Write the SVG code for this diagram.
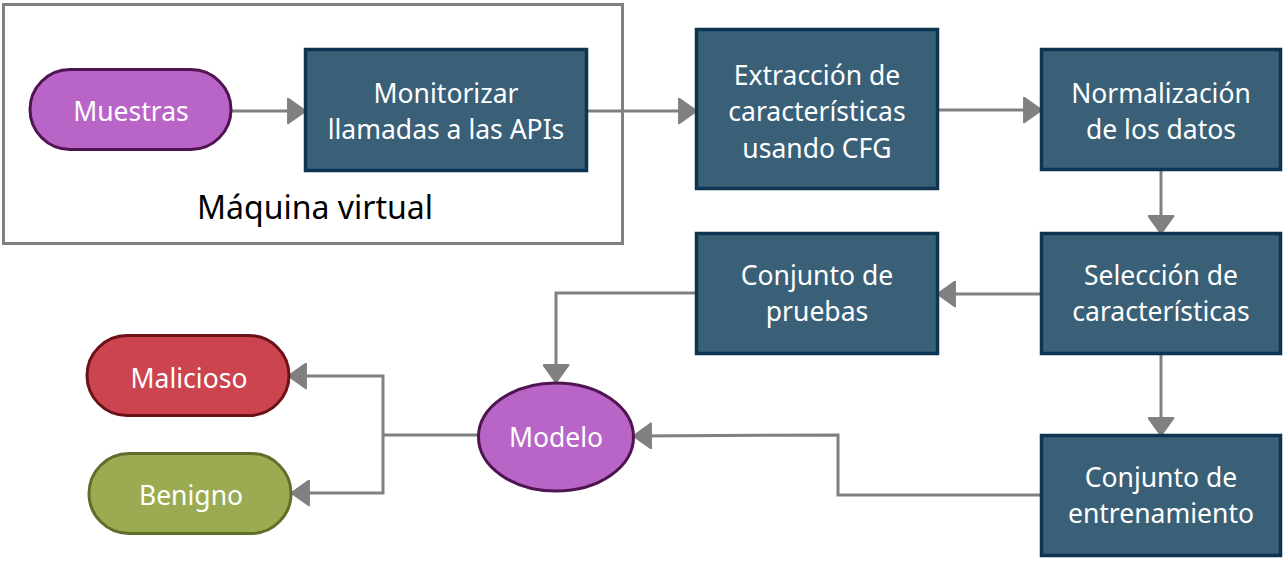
<svg xmlns="http://www.w3.org/2000/svg" width="1286" height="561" viewBox="0 0 1286 561">
<defs>
<marker id="ah" viewBox="0 0 10 10" refX="9.5" refY="5" markerWidth="6.3" markerHeight="9" markerUnits="strokeWidth" orient="auto" preserveAspectRatio="none">
<path d="M0.5,0.5 L9.5,5 L0.5,9.5 Z" fill="#808080" stroke="#808080" stroke-width="1" stroke-linejoin="round"/>
</marker>
<style>
.box{fill:#3a6078;stroke:#0d3552;stroke-width:3.5}
.t{font-family:"Noto Sans","Open Sans","DejaVu Sans",sans-serif;font-size:26.5px;fill:#ffffff;text-anchor:middle}
.c{fill:none;stroke:#808080;stroke-width:3;marker-end:url(#ah)}
.cn{fill:none;stroke:#808080;stroke-width:3}
</style>
</defs>
<rect width="1286" height="561" fill="#ffffff"/>
<g id="vm">
<rect x="3.5" y="4.5" width="619" height="239" fill="none" stroke="#808080" stroke-width="3"/>
<text x="315" y="219" font-family="Noto Sans,Open Sans,sans-serif" font-size="32" fill="#000000" text-anchor="middle">Máquina virtual</text>
</g>
<g id="connectors">
<path class="c" d="M231,111 L305,111"/>
<path class="c" d="M587,111 L696,111"/>
<path class="c" d="M938,110 L1041,110"/>
<path class="c" d="M1161,170 L1161,233"/>
<path class="c" d="M1041,294 L938,294"/>
<path class="c" d="M696,293 L556,293 L556,382"/>
<path class="c" d="M1161,354 L1161,435"/>
<path class="c" d="M1041,495 L838,495 L838,435 L634,436"/>
<path class="cn" d="M478,435 L383,435"/>
<path class="c" d="M383,435 L383,376 L289,376"/>
<path class="c" d="M383,435 L383,493 L292,493"/>
</g>
<g id="muestras">
<rect x="30" y="69.5" width="201" height="80" rx="40" fill="#b964c7" stroke="#4f1552" stroke-width="3"/>
<text class="t" x="131" y="121">Muestras</text>
</g>
<g id="monitorizar">
<rect class="box" x="305.5" y="49.5" width="281" height="121"/>
<text class="t" x="446" y="103">Monitorizar</text>
<text class="t" x="446" y="139">llamadas a las APIs</text>
</g>
<g id="extraccion">
<rect class="box" x="696.5" y="29.5" width="241" height="159"/>
<text class="t" x="817" y="85">Extracción de</text>
<text class="t" x="817" y="121">características</text>
<text class="t" x="817" y="158">usando CFG</text>
</g>
<g id="normalizacion">
<rect class="box" x="1041.5" y="49.5" width="239" height="120"/>
<text class="t" x="1161" y="103">Normalización</text>
<text class="t" x="1161" y="139">de los datos</text>
</g>
<g id="seleccion">
<rect class="box" x="1041.5" y="233.5" width="239" height="120"/>
<text class="t" x="1161" y="285">Selección de</text>
<text class="t" x="1161" y="321">características</text>
</g>
<g id="pruebas">
<rect class="box" x="696.5" y="233.5" width="241" height="120"/>
<text class="t" x="817" y="285">Conjunto de</text>
<text class="t" x="817" y="321">pruebas</text>
</g>
<g id="entrenamiento">
<rect class="box" x="1041.5" y="435.5" width="239" height="120"/>
<text class="t" x="1161" y="487">Conjunto de</text>
<text class="t" x="1161" y="523">entrenamiento</text>
</g>
<g id="modelo">
<ellipse cx="556" cy="437" rx="77.5" ry="54" fill="#b964c7" stroke="#4f1552" stroke-width="3"/>
<text class="t" x="556" y="447">Modelo</text>
</g>
<g id="malicioso">
<rect x="87" y="335.5" width="202" height="80" rx="40" fill="#cb444f" stroke="#6b1218" stroke-width="3"/>
<text class="t" x="189" y="388">Malicioso</text>
</g>
<g id="benigno">
<rect x="89" y="453.5" width="202" height="80" rx="40" fill="#9bab51" stroke="#5f6e2b" stroke-width="3"/>
<text class="t" x="191" y="505">Benigno</text>
</g>
</svg>
